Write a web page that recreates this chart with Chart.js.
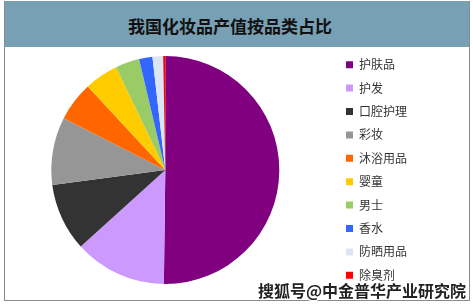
<!DOCTYPE html>
<html>
<head>
<meta charset="utf-8">
<script src="https://cdn.jsdelivr.net/npm/chart.js@4"></script>
<style>
  html, body { margin: 0; padding: 0; background: #fff; }
  #frame {
    position: absolute; left: 4px; top: 1px; width: 464px; height: 299px;
    border: 1px solid #8a8a8a; border-top: none; background: #fff;
  }
  #title-bar {
    position: absolute; left: 0; top: 0; width: 464px; height: 46px;
    background: #78a0b4;
  }
  #title-bar h1 {
    margin: 0; position: absolute; left: 0; width: 450px; top: 12px;
    text-align: center; font: bold 17px "Noto Sans CJK SC", sans-serif; color: #111;
  }
  /* canvas starts a bit left of the frame so the pie sits where it does in the original */
  #chart-box { position: absolute; left: -9px; top: 43px; width: 462px; height: 252px; }
  #watermark {
    position: absolute; left: 258px; top: 278px;
    font: bold 16px "Noto Sans CJK SC", sans-serif; color: #222;
    text-shadow: 1px 1px 0 #fff, -1px -1px 0 #fff, 1px -1px 0 #fff, -1px 1px 0 #fff;
  }
</style>
</head>
<body>
<div id="frame">
  <div id="title-bar"><h1>我国化妆品产值按品类占比</h1></div>
  <div id="chart-box"><canvas id="pieChart" width="462" height="252"></canvas></div>
</div>
<div id="watermark">搜狐号@中金普华产业研究院</div>

<script>
// category labels and shares (%)
const categories = ['护肤品', '护发', '口腔护理', '彩妆', '沐浴用品', '婴童', '男士', '香水', '防晒用品', '除臭剂'];
const shares = [50.2, 13.1, 9.6, 9.6, 5.6, 4.8, 3.4, 1.9, 1.5, 0.3];
const sliceColors = ['#800080', '#cc99ff', '#333333', '#969696', '#ff6600', '#ffcc00', '#99cc66', '#3366ff', '#dce6f2', '#ff0000'];

new Chart(document.getElementById('pieChart'), {
    type: 'pie',
    data: {
        labels: categories,
        datasets: [{
            data: shares,
            backgroundColor: sliceColors,
            borderWidth: 0,
            radius: 114
        }]
    },
    options: {
        responsive: false,
        animation: false,
        layout: { padding: { top: 0, bottom: 0, left: 0, right: 41 } },
        plugins: {
            tooltip: { enabled: false },
            legend: {
                position: 'right',
                labels: {
                    boxWidth: 7,
                    boxHeight: 7,
                    padding: 11.4,
                    color: '#333',
                    font: { family: '"Noto Sans CJK SC", sans-serif', size: 12 }
                }
            }
        }
    }
});
</script>
</body>
</html>
